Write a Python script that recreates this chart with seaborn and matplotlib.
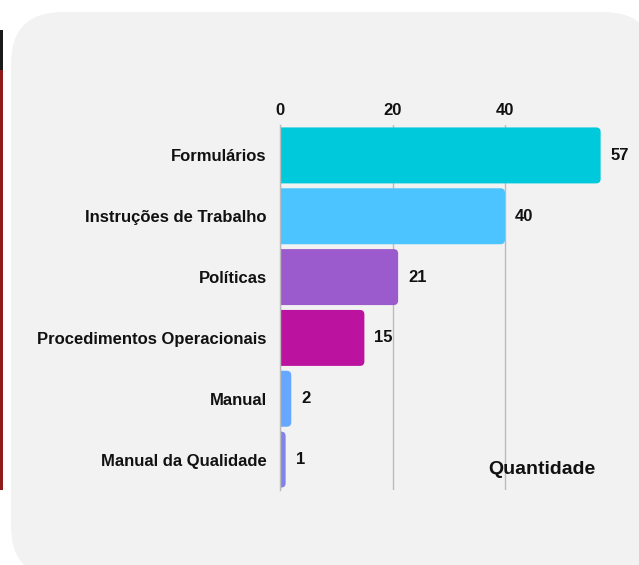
import matplotlib
matplotlib.use("Agg")
import matplotlib.pyplot as plt
from matplotlib.patches import FancyBboxPatch, Rectangle
from matplotlib.transforms import IdentityTransform
import seaborn as sns
import pandas as pd

categories = ["Formulários", "Instruções de Trabalho", "Políticas",
              "Procedimentos Operacionais", "Manual", "Manual da Qualidade"]
values = [57, 40, 21, 15, 2, 1]
colors = ["#00C9DB", "#4CC4FF", "#9C5BCD", "#BB12A0", "#66A8FF", "#8282EB"]
ticks = [0, 20, 40]
axis_title = "Quantidade"

sns.set_theme(style="white")
plt.rcParams["font.family"] = ["Liberation Sans", "DejaVu Sans"]

W, H = 639, 565
fig = plt.figure(figsize=(W / 100, H / 100), dpi=100)
fig.patch.set_facecolor("white")
ident = IdentityTransform()

# left dark strip (background bleed)
fig.patches.append(Rectangle((0, H - 70), 3, 40, transform=ident,
                             facecolor="#1a1a1a", edgecolor="none", zorder=0))
fig.patches.append(Rectangle((0, H - 490), 3, 420, transform=ident,
                             facecolor="#8f1a1a", edgecolor="none", zorder=0))

# rounded panel (pixel coordinates)
px0, py0, px1, py1 = 11, 12, 655, 578
fig.patches.append(FancyBboxPatch((px0, H - py1), px1 - px0, py1 - py0,
                                  boxstyle="round,pad=0,rounding_size=52",
                                  transform=ident, facecolor="#F2F2F2",
                                  edgecolor="none", zorder=0.5))

x_left, x_right = 280, 617.5
y_top, y_bot = 125, 490
ax = fig.add_axes([x_left / W, 1 - y_bot / H, (x_right - x_left) / W, (y_bot - y_top) / H])
ax.set_facecolor("none")
ax.set_zorder(2)

df = pd.DataFrame({"cat": categories, "val": values})
sns.barplot(data=df, y="cat", x="val", hue="cat", palette=colors, legend=False,
            orient="h", width=0.92, ax=ax, zorder=2)
ax.set_xlim(0, 60)
ax.set_ylim(len(categories) - 0.5, -0.5)

# replace bars with rounded ones
px_per_x = (x_right - x_left) / 60.0
px_per_y = (y_bot - y_top) / len(categories)
r_px = 4.5
r_x = r_px / px_per_x
aspect = (1 / px_per_y) / (1 / px_per_x)
for p, c in zip(list(ax.patches), colors):
    x, y, w, h = p.get_x(), p.get_y(), p.get_width(), p.get_height()
    p.set_visible(False)
    fb = FancyBboxPatch((x - 2 * r_x, y), w + 2 * r_x, h,
                        boxstyle=f"round,pad=0,rounding_size={r_x}",
                        mutation_aspect=aspect, facecolor=c, edgecolor="none",
                        zorder=2, clip_on=True)
    ax.add_patch(fb)
    ax.text(w + 10 / px_per_x, y + h / 2, f"{int(w)}",
            ha="left", va="center", fontsize=12, fontweight="bold", color="#111111",
            zorder=3)

ax.set_xticks(ticks)
ax.xaxis.tick_top()
ax.tick_params(axis="x", length=0, pad=5, labelsize=12, colors="#111111")
ax.tick_params(axis="y", length=0, pad=9.5, labelsize=12, colors="#111111")
for lab in ax.get_xticklabels() + ax.get_yticklabels():
    lab.set_fontweight("bold")
ax.set_xlabel("")
ax.set_ylabel("")
ax.grid(axis="x", color="#BBBBBB", linewidth=1, zorder=0)
ax.set_axisbelow(True)
for s in ["top", "right", "bottom"]:
    ax.spines[s].set_visible(False)
ax.spines["left"].set_color("#BBBBBB")
ax.spines["left"].set_linewidth(1)

fig.text(542 / W, 1 - 469 / H, axis_title, ha="center", va="center",
         fontsize=14, fontweight="bold", color="#111111", zorder=3)

fig.savefig("out.png", dpi=100)
